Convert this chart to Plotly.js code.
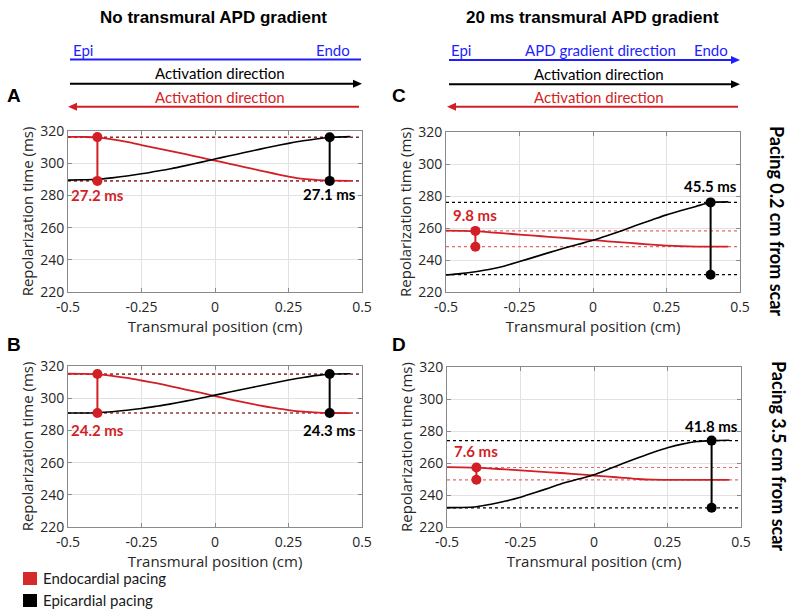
<!DOCTYPE html>
<html>
<head>
<meta charset="utf-8">
<script src="https://cdn.plot.ly/plotly-3.0.1.min.js"></script>
<style>html,body{margin:0;padding:0;background:#fff;}#chart{width:797px;height:614px;}</style>
</head>
<body>
<div id="chart"></div>
<script>
// ---------- DATA ----------
const xs = [-0.5,-0.45,-0.4,-0.35,-0.3,-0.25,-0.2,-0.15,-0.1,-0.05,0,0.05,0.1,0.15,0.2,0.25,0.3,0.35,0.4,0.46];

// Panel A: no gradient, pacing 0.2 cm from scar
const aEndo = [316.4,316.3,316.0,314.8,313.2,311.3,309.4,307.5,305.6,303.6,301.6,299.6,297.6,295.6,293.6,291.7,290.2,289.5,289.2,289.0];
const aEpi  = [289.5,289.7,290.0,290.9,292.0,293.4,295.0,296.6,298.5,300.5,302.6,304.6,306.6,308.6,310.5,312.3,313.9,315.2,316.1,316.5];
// Panel B: no gradient, pacing 3.5 cm from scar
const bEndo = [315.2,315.1,314.8,313.9,312.6,311.0,309.3,307.4,305.4,303.4,301.3,299.3,297.4,295.6,294.0,292.6,291.6,291.0,290.8,290.7];
const bEpi  = [290.8,290.8,291.0,291.6,292.5,293.6,295.0,296.5,298.2,300.0,301.9,303.8,305.7,307.6,309.5,311.3,312.9,314.2,315.0,315.2];
// Panel C: 20 ms gradient, pacing 0.2 cm from scar
const cEndo = [258.3,258.2,258.0,257.3,256.6,255.9,255.2,254.5,253.8,253.1,252.4,251.7,251.0,250.3,249.6,249.0,248.6,248.4,248.3,248.3];
const cEpi  = [230.6,231.5,232.7,234.2,236.3,239.0,241.8,244.6,247.3,249.8,252.3,255.3,258.5,261.8,265.0,268.2,270.9,273.5,275.9,276.3];
// Panel D: 20 ms gradient, pacing 3.5 cm from scar
const dEndo = [257.4,257.3,257.1,256.5,256.0,255.4,254.8,254.2,253.6,252.9,252.2,251.5,250.7,250.0,249.6,249.5,249.5,249.5,249.5,249.5];
const dEpi  = [232.1,232.2,232.7,234.2,236.2,238.6,241.5,244.6,247.6,250.1,252.6,256.2,259.8,263.3,266.6,269.5,271.8,273.4,274.0,274.2];

// Dispersion markers (max / min repolarization) per panel: A, B, C, D
const endoMarkX = [-0.4,-0.4,-0.4,-0.4];
const epiMarkX  = [0.39,0.39,0.40,0.40];
const endoMax = [316.2,315.0,258.2,257.2];
const endoMin = [289.0,290.8,248.3,249.5];
const epiMax  = [316.1,315.0,276.0,274.0];
const epiMin  = [289.0,290.8,230.8,232.0];
const endoLabel = ["27.2 ms","24.2 ms","9.8 ms","7.6 ms"];
const epiLabel  = ["27.1 ms","24.3 ms","45.5 ms","41.8 ms"];

const xTickVals = [-0.5,-0.25,0,0.25,0.5];
const xTickText = ["-0.5","-0.25","0","0.25","0.5"];
const yTickVals = [220,240,260,280,300,320];

const panelLetters = ["A","B","C","D"];
const colTitles = ["No transmural APD gradient","20 ms transmural APD gradient"];
const rowTitles = ["Pacing 0.2 cm from scar","Pacing 3.5 cm from scar"];
const legendNames = ["Endocardial pacing","Epicardial pacing"];

// ---------- STYLE ----------
const RED = "#d21f26", BLACK = "#000000", BLUE = "#1e1eff";
const RED_DOT = "#e36a6a";
const W = 797, H = 614;
const X = p => p / W, Y = p => 1 - p / H;

const endoSeries = [aEndo,bEndo,cEndo,dEndo];
const epiSeries  = [aEpi,bEpi,cEpi,dEpi];
const axIds = ["","2","3","4"];
// label y positions (data units) for delta labels
const endoLabelY = [280.5,280.3,268,267.3];
const epiLabelY  = [280.8,280.3,286,283.2];

const traces = [];
for (let i = 0; i < 4; i++) {
  const xa = "x" + axIds[i], ya = "y" + axIds[i];
  const gradient = i >= 2;
  const epiDot = gradient ? BLACK : "#333333";
  const endoDot = gradient ? RED_DOT : RED;
  [epiMax[i], epiMin[i]].forEach(v => traces.push({x:[-0.5,0.5], y:[v,v], xaxis:xa, yaxis:ya, mode:"lines",
    line:{color:epiDot, width:1.2, dash:"dot"}, hoverinfo:"skip", showlegend:false}));
  [endoMax[i], endoMin[i]].forEach(v => traces.push({x:[-0.5,0.5], y:[v,v], xaxis:xa, yaxis:ya, mode:"lines",
    line:{color:endoDot, width:1.2, dash:"dot"}, opacity: gradient ? 1 : 0.75, hoverinfo:"skip", showlegend:false}));
  traces.push({x:xs, y:endoSeries[i], xaxis:xa, yaxis:ya, mode:"lines", line:{color:RED, width:1.8, shape:"spline", smoothing:0.8}, showlegend:false, name:legendNames[0]});
  traces.push({x:xs, y:epiSeries[i], xaxis:xa, yaxis:ya, mode:"lines", line:{color:BLACK, width:1.6, shape:"spline", smoothing:0.8}, showlegend:false, name:legendNames[1]});
  traces.push({x:[endoMarkX[i],endoMarkX[i]], y:[endoMax[i],endoMin[i]], xaxis:xa, yaxis:ya, mode:"lines+markers",
    line:{color:RED, width:2}, marker:{color:RED, size:10}, showlegend:false});
  traces.push({x:[epiMarkX[i],epiMarkX[i]], y:[epiMax[i],epiMin[i]], xaxis:xa, yaxis:ya, mode:"lines+markers",
    line:{color:BLACK, width:2}, marker:{color:BLACK, size:10}, showlegend:false});
}

const tickFont = {family:"Open Sans, sans-serif", size:14, color:"#262626"};
const titleFont = {family:"Open Sans, sans-serif", size:15, color:"#262626"};
function xAxis(domain, anchor) {
  return {domain, anchor, range:[-0.5,0.5], tickvals:xTickVals, ticktext:xTickText, showgrid:true, gridcolor:"#e2e2e2",
    zeroline:false, showline:true, linecolor:"#8a8a8a", linewidth:1, mirror:"ticks", ticks:"inside", ticklen:4,
    tickcolor:"#8a8a8a", tickfont:tickFont, fixedrange:true, ticklabelstandoff:2,
    title:{text:"Transmural position (cm)", font:titleFont, standoff:1}};
}
function yAxis(domain, anchor) {
  return {domain, anchor, range:[220,320], tickvals:yTickVals, showgrid:true, gridcolor:"#e2e2e2",
    zeroline:false, showline:true, linecolor:"#8a8a8a", linewidth:1, mirror:"ticks", ticks:"inside", ticklen:4,
    tickcolor:"#8a8a8a", tickfont:tickFont, fixedrange:true,
    title:{text:"Repolarization time (ms)", font:titleFont, standoff:2}};
}

const layout = {
  width:W, height:H, autosize:false, margin:{l:0,r:0,t:0,b:0},
  paper_bgcolor:"#ffffff", plot_bgcolor:"#ffffff", showlegend:false,
  xaxis:  xAxis([X(68), X(362)], "y"),
  yaxis:  yAxis([Y(292), Y(131)], "x"),
  xaxis2: xAxis([X(68), X(362)], "y2"),
  yaxis2: yAxis([Y(527), Y(366)], "x2"),
  xaxis3: xAxis([X(446), X(740)], "y3"),
  yaxis3: yAxis([Y(292), Y(132)], "x3"),
  xaxis4: xAxis([X(447), X(741)], "y4"),
  yaxis4: yAxis([Y(527), Y(367)], "x4"),
  shapes: [], annotations: []
};

const hdrFont = (c, s) => ({family:"Lato, sans-serif", size:s||15, color:c});
function pAnn(text, px, py, opts) {
  layout.annotations.push(Object.assign({text, x:X(px), y:Y(py), xref:"paper", yref:"paper", showarrow:false,
    xanchor:"center", yanchor:"middle", font:hdrFont("#000")}, opts||{}));
}
function hLine(x0, x1, y, color) {
  layout.shapes.push({type:"line", xref:"paper", yref:"paper", x0:X(x0), x1:X(x1), y0:Y(y), y1:Y(y), line:{color, width:2}});
}
function arrowHead(tx, ty, dir, color) {
  const L = 9, h = 4;
  const bx = tx - dir*L;
  layout.shapes.push({type:"path", xref:"paper", yref:"paper",
    path:`M ${X(tx)} ${Y(ty)} L ${X(bx)} ${Y(ty-h)} L ${X(bx)} ${Y(ty+h)} Z`, fillcolor:color, line:{color, width:0}});
}

// column titles
pAnn("<b>"+colTitles[0]+"</b>", 213, 17, {font:{family:"Liberation Sans, Arial, sans-serif", size:17, color:"#000"}});
pAnn("<b>"+colTitles[1]+"</b>", 592, 17, {font:{family:"Liberation Sans, Arial, sans-serif", size:17, color:"#000"}});

// left header
pAnn("Epi", 71, 50, {xanchor:"left", font:hdrFont(BLUE)});
pAnn("Endo", 352, 50, {xanchor:"right", font:hdrFont(BLUE)});
hLine(70, 361, 59.5, BLUE);
pAnn("Activation direction", 220, 73, {font:hdrFont(BLACK)});
hLine(70, 354, 83.7, BLACK); arrowHead(362, 83.7, 1, BLACK);
pAnn("Activation direction", 220, 97, {font:hdrFont(RED)});
hLine(76, 359, 106.7, RED); arrowHead(68, 106.7, -1, RED);

// right header
pAnn("Epi", 449, 50, {xanchor:"left", font:hdrFont(BLUE)});
pAnn("APD gradient direction", 600, 50, {font:hdrFont(BLUE)});
pAnn("Endo", 730, 50, {xanchor:"right", font:hdrFont(BLUE)});
hLine(449, 732, 60, BLUE); arrowHead(740, 60, 1, BLUE);
pAnn("Activation direction", 599, 74, {font:hdrFont(BLACK)});
hLine(449, 732, 84.3, BLACK); arrowHead(740, 84.3, 1, BLACK);
pAnn("Activation direction", 599, 97, {font:hdrFont(RED)});
hLine(455, 738, 106.7, RED); arrowHead(447, 106.7, -1, RED);

// panel letters
const letterPos = [[14,96],[14,344],[399,96],[399,344]];
panelLetters.forEach((t,i) => pAnn("<b>"+t+"</b>", letterPos[i][0], letterPos[i][1],
  {font:{family:"Liberation Sans, Arial, sans-serif", size:19, color:"#000"}}));

// row titles (rotated)
pAnn("<b>"+rowTitles[0]+"</b>", 777, 221, {textangle:90, font:{family:"Lato, sans-serif", size:18, color:"#000"}});
pAnn("<b>"+rowTitles[1]+"</b>", 779, 456, {textangle:90, font:{family:"Lato, sans-serif", size:18, color:"#000"}});

// delta labels (data coords)
for (let i = 0; i < 4; i++) {
  const xr = "x"+axIds[i], yr = "y"+axIds[i];
  layout.annotations.push({text:"<b>"+endoLabel[i]+"</b>", x:endoMarkX[i], y:endoLabelY[i], xref:xr, yref:yr,
    showarrow:false, xanchor:"center", yanchor:"middle", font:{family:"Lato, sans-serif", size:15, color:RED}});
  layout.annotations.push({text:"<b>"+epiLabel[i]+"</b>", x:epiMarkX[i], y:epiLabelY[i], xref:xr, yref:yr,
    showarrow:false, xanchor:"center", yanchor:"middle",
    font:{family:"Lato, sans-serif", size:15, color:BLACK}});
}

// legend (bottom-left)
layout.shapes.push({type:"rect", xref:"paper", yref:"paper", x0:X(23), x1:X(37), y0:Y(585), y1:Y(572), fillcolor:"#d42a2a", line:{width:0}});
layout.shapes.push({type:"rect", xref:"paper", yref:"paper", x0:X(23), x1:X(37), y0:Y(607), y1:Y(594), fillcolor:"#000000", line:{width:0}});
pAnn(legendNames[0], 41, 578, {xanchor:"left", font:hdrFont("#1a1a1a", 15)});
pAnn(legendNames[1], 41, 600, {xanchor:"left", font:hdrFont("#1a1a1a", 15)});

Plotly.newPlot("chart", traces, layout, {staticPlot:true, displayModeBar:false});
</script>
</body>
</html>
